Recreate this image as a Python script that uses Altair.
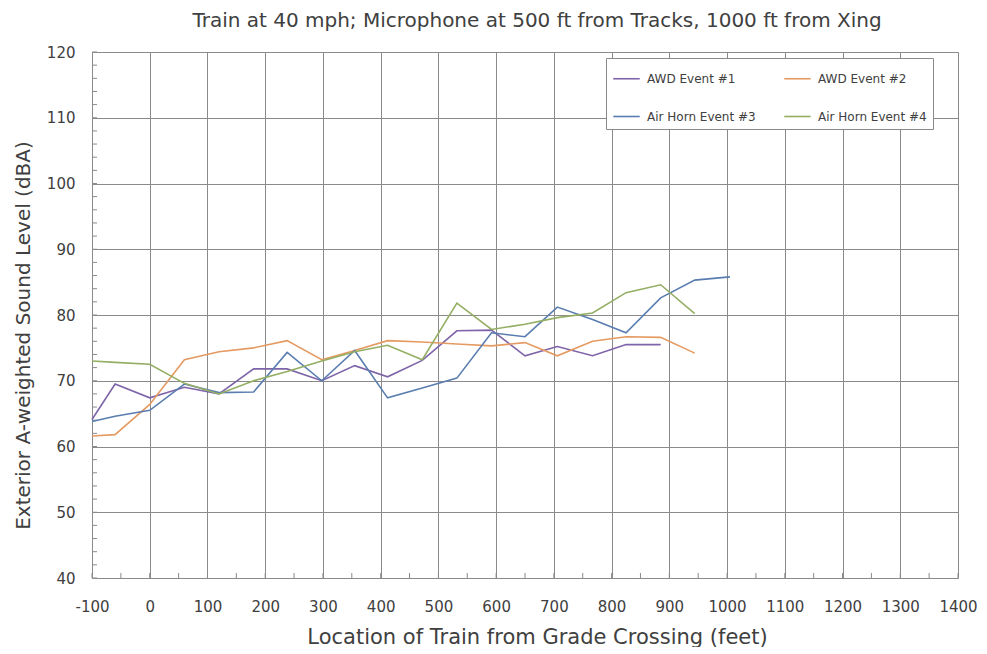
import altair as alt
import pandas as pd

# ---------------- data ----------------
series_names = ["AWD Event #1", "AWD Event #2", "Air Horn Event #3", "Air Horn Event #4"]
series_colors = ["#7E64A8", "#E59A62", "#5A7DB0", "#93AE62"]

x_awd1 = [-100, -60, 0, 60, 120, 180, 238, 298, 355, 412, 472, 532, 592, 650, 706, 767, 825, 885]
y_awd1 = [64.1, 69.5, 67.4, 69.0, 68.0, 71.8, 71.8, 70.0, 72.3, 70.6, 73.1, 77.6, 77.7, 73.8, 75.2, 73.8, 75.5, 75.5]

x_awd2 = [-100, -60, 0, 60, 120, 180, 238, 298, 355, 412, 472, 532, 592, 650, 706, 767, 825, 885, 944]
y_awd2 = [61.6, 61.8, 66.4, 73.2, 74.4, 75.0, 76.1, 73.2, 74.6, 76.1, 75.9, 75.6, 75.3, 75.8, 73.8, 76.0, 76.7, 76.6, 74.2]

x_horn3 = [-100, -60, 0, 60, 120, 180, 238, 298, 355, 412, 472, 532, 592, 650, 706, 767, 825, 885, 944, 1005]
y_horn3 = [63.8, 64.6, 65.5, 69.5, 68.2, 68.3, 74.3, 70.0, 74.6, 67.4, 68.9, 70.4, 77.3, 76.7, 81.2, 79.3, 77.3, 82.6, 85.3, 85.8]

x_horn4 = [-100, -60, 0, 60, 120, 180, 238, 298, 355, 412, 472, 532, 592, 650, 706, 767, 825, 885, 944]
y_horn4 = [73.0, 72.8, 72.5, 69.6, 68.0, 70.0, 71.4, 73.0, 74.4, 75.4, 73.2, 81.8, 77.8, 78.6, 79.6, 80.3, 83.4, 84.6, 80.2]

x_ticks = list(range(-100, 1401, 100))
y_ticks = list(range(40, 121, 10))
x_minor = list(range(-100, 1401, 50))
y_minor = list(range(40, 121, 2))

title_text = "Train at 40 mph; Microphone at 500 ft from Tracks, 1000 ft from Xing"
x_title = "Location of Train from Grade Crossing (feet)"
y_title = "Exterior A-weighted Sound Level (dBA)"

# ---------------- build table ----------------
rows = []
for name, xs, ys in zip(series_names,
                        [x_awd1, x_awd2, x_horn3, x_horn4],
                        [y_awd1, y_awd2, y_horn3, y_horn4]):
    for i, (xv, yv) in enumerate(zip(xs, ys)):
        rows.append({"series": name, "x": xv, "y": yv, "idx": i})
df = pd.DataFrame(rows)

W, H = 866, 526
FONT = "DejaVu Sans"
TXT = "#404040"
GRID = "#8a8a8a"

x_scale = alt.Scale(domain=[-100, 1400], nice=False, zero=False)
y_scale = alt.Scale(domain=[40, 120], nice=False, zero=False)

x_axis = alt.Axis(values=x_ticks, title=x_title, grid=True, gridColor=GRID, gridWidth=1,
                  ticks=False, domain=False, labelPadding=21, titlePadding=12,
                  labelFontSize=15, titleFontSize=21, labelFont=FONT, titleFont=FONT,
                  labelColor=TXT, titleColor=TXT, titleFontWeight="normal",
                  labelFlush=False, labelOverlap=False, labelExpr="datum.value + ''",
                  titleX=445, titleAnchor="middle")
y_axis = alt.Axis(values=y_ticks, title=y_title, grid=True, gridColor=GRID, gridWidth=1,
                  ticks=False, domain=False, labelPadding=17, titlePadding=13,
                  labelFontSize=15, titleFontSize=20, labelFont=FONT, titleFont=FONT,
                  labelColor=TXT, titleColor=TXT, titleFontWeight="normal",
                  labelFlush=False, labelOverlap=False, labelExpr="datum.value + ''",
                  titleY=283, titleAnchor="middle")

lines = alt.Chart(df).mark_line(strokeWidth=1.6).encode(
    x=alt.X("x:Q", scale=x_scale, axis=x_axis),
    y=alt.Y("y:Q", scale=y_scale, axis=y_axis),
    color=alt.Color("series:N",
                    scale=alt.Scale(domain=series_names, range=series_colors),
                    legend=alt.Legend(orient="none", legendX=514, legendY=6, columns=2,
                                      direction="horizontal",
                                      title=None, symbolType="stroke", symbolSize=700,
                                      symbolStrokeWidth=1.6, labelFontSize=12, labelFont=FONT,
                                      labelColor=TXT, labelOffset=6, columnPadding=25,
                                      rowPadding=17, padding=6, strokeColor=GRID,
                                      fillColor="white", labelLimit=200)),
    order=alt.Order("idx:Q"),
)

y_minor_df = pd.DataFrame({"v": y_minor})
x_minor_df = pd.DataFrame({"v": x_minor})

yminor = alt.Chart(y_minor_df).mark_rule(color=GRID, strokeWidth=1).encode(
    y=alt.Y("v:Q", scale=y_scale, axis=y_axis),
    x=alt.value(0), x2=alt.value(5),
)
xminor = alt.Chart(x_minor_df).mark_rule(color=GRID, strokeWidth=1).encode(
    x=alt.X("v:Q", scale=x_scale, axis=x_axis),
    y=alt.value(H), y2=alt.value(H - 5),
)

chart = alt.layer(yminor, xminor, lines).properties(
    width=W, height=H,
    padding={"left": 5, "top": 3, "right": 0, "bottom": 0},
    title=alt.TitleParams(text=title_text, fontSize=20, font=FONT, color=TXT,
                          fontWeight="normal", offset=14, anchor="middle",
                          frame="group", dx=12),
).configure_view(stroke=GRID, strokeWidth=1).configure(background="white")

chart.save("out.html", embed_options={"renderer": "svg", "actions": False})
